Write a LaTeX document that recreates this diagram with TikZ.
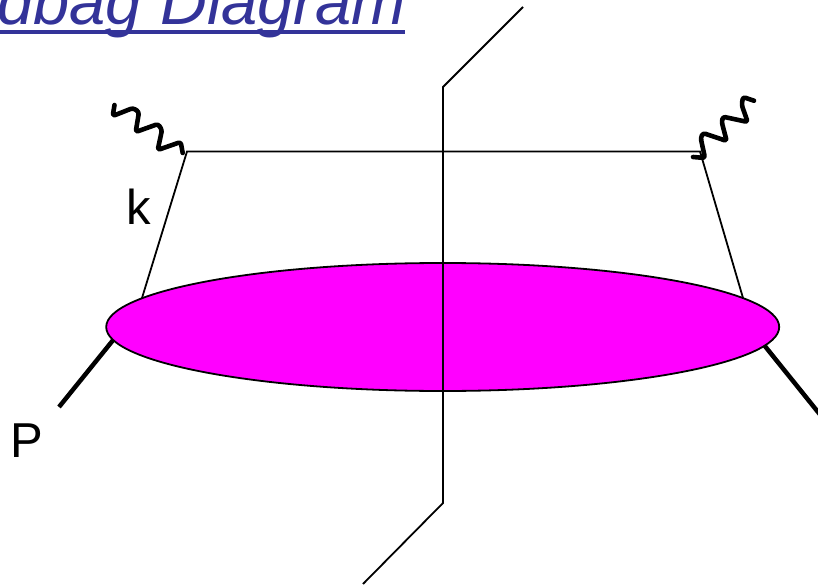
\documentclass[tikz,border=0pt]{standalone}
\usepackage{fontspec}
\usepackage{xcolor}
\usetikzlibrary{shapes.geometric}
\setmainfont{Liberation Sans}
\definecolor{titleblue}{HTML}{333399}
\definecolor{blobpink}{HTML}{FF00FF}
\tikzset{
  quark/.style={line width=1.8pt},
  proton/.style={line width=4.5pt},
  photon/.style={line width=4.6pt,line cap=round,line join=round,rounded corners=2.5pt},
  momlabel/.style={inner sep=0pt,font=\fontsize{49}{49}\selectfont}
}
\begin{document}
\begin{tikzpicture}[x=1pt,y=-1pt]
\useasboundingbox (0,0) rectangle (818,585);
\clip (0,0) rectangle (818,585);
\fill[titleblue] (-5,30) rectangle (405,34.5);
\node[anchor=base east,inner sep=0pt,text=titleblue,font=\fontsize{65}{65}\selectfont\itshape] (title) at (406,24.5) {dbag Diagram};
\coordinate (vl) at (187,151.5);
\coordinate (vr) at (700,151.5);
\coordinate (bl) at (142,298);
\coordinate (br) at (743,298);
\coordinate (pl) at (59,407);
\coordinate (pr) at (822,417);
\coordinate (cuttop) at (523,7);
\coordinate (cutup) at (443,87);
\coordinate (cutdown) at (443,503);
\coordinate (cutbot) at (363,584);
\draw[proton] (pl) -- (118,334);
\draw[proton] (pr) -- (760,340);
\draw[quark] (bl) -- (vl) -- (vr) -- (br);
\node[ellipse,draw,fill=blobpink,line width=1.8pt,minimum width=673pt,minimum height=128pt,inner sep=0pt] (blob) at (442.7,327) {};
\draw[quark] (cuttop) -- (cutup) -- (cutdown) -- (cutbot);
\draw[photon] (114.5,105) -- (112.7,116) -- (133,108) -- (139,112) -- (135.7,132) -- (158,124) -- (162,130) -- (157.7,150) -- (180.7,142) -- (182.7,153);
\draw[photon] (754,100.7) -- (743,97) -- (741.7,105) -- (747.7,122) -- (723,116.7) -- (721.7,122) -- (726.7,141) -- (703,133) -- (700.7,138) -- (705,158) -- (693,157);
\node[momlabel,anchor=base] (k) at (139,225) {k};
\node[momlabel,anchor=base] (P) at (27,457) {P};
\end{tikzpicture}
\end{document}
